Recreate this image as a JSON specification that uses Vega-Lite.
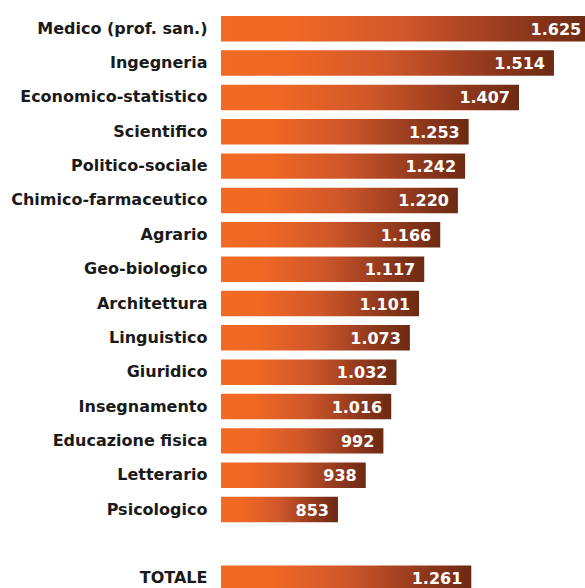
{
  "$schema": "https://vega.github.io/schema/vega-lite/v6.json",
  "width": 364,
  "height": 575,
  "autosize": {"type": "none"},
  "padding": {"left": 221, "top": 16, "right": 0, "bottom": -3},
  "background": "white",
  "config": {
    "view": {"stroke": null},
    "locale": {"number": {"decimal": ",", "thousands": ".", "grouping": [3], "currency": ["€", ""]}}
  },
  "data": {
    "values": [
      {"area": "Medico (prof. san.)", "value": 1625},
      {"area": "Ingegneria", "value": 1514},
      {"area": "Economico-statistico", "value": 1407},
      {"area": "Scientifico", "value": 1253},
      {"area": "Politico-sociale", "value": 1242},
      {"area": "Chimico-farmaceutico", "value": 1220},
      {"area": "Agrario", "value": 1166},
      {"area": "Geo-biologico", "value": 1117},
      {"area": "Architettura", "value": 1101},
      {"area": "Linguistico", "value": 1073},
      {"area": "Giuridico", "value": 1032},
      {"area": "Insegnamento", "value": 1016},
      {"area": "Educazione fisica", "value": 992},
      {"area": "Letterario", "value": 938},
      {"area": "Psicologico", "value": 853},
      {"area": "TOTALE", "value": 1261}
    ]
  },
  "encoding": {
    "y": {
      "field": "area",
      "type": "nominal",
      "sort": null,
      "scale": {
        "domain": ["Medico (prof. san.)", "Ingegneria", "Economico-statistico", "Scientifico", "Politico-sociale", "Chimico-farmaceutico", "Agrario", "Geo-biologico", "Architettura", "Linguistico", "Giuridico", "Insegnamento", "Educazione fisica", "Letterario", "Psicologico", " ", "TOTALE"],
        "paddingInner": 0.258,
        "paddingOuter": 0
      },
      "axis": {
        "title": null,
        "ticks": false,
        "domain": false,
        "grid": false,
        "labelPadding": 14,
        "labelFont": "DejaVu Sans",
        "labelFontSize": 16,
        "labelFontWeight": "bold",
        "labelColor": "#1a1a1a",
        "labelLimit": 230
      }
    },
    "x": {
      "field": "value",
      "type": "quantitative",
      "scale": {"domain": [495, 1609], "nice": false, "zero": false},
      "axis": null
    }
  },
  "layer": [
    {
      "mark": {
        "type": "bar",
        "clip": true,
        "color": {
          "gradient": "linear",
          "x1": 0, "y1": 0, "x2": 1, "y2": 0,
          "stops": [
            {"offset": 0, "color": "#F26A23"},
            {"offset": 0.2, "color": "#EF6824"},
            {"offset": 0.5, "color": "#CF572A"},
            {"offset": 0.8, "color": "#92391D"},
            {"offset": 1, "color": "#6C2A13"}
          ]
        }
      },
      "encoding": {"x2": {"datum": 495}}
    },
    {
      "mark": {
        "type": "text",
        "align": "right",
        "baseline": "middle",
        "dx": -9,
        "dy": 1,
        "color": "white",
        "font": "DejaVu Sans",
        "fontWeight": "bold",
        "fontSize": 16
      },
      "encoding": {"text": {"field": "value", "type": "quantitative", "format": ","}}
    }
  ]
}
